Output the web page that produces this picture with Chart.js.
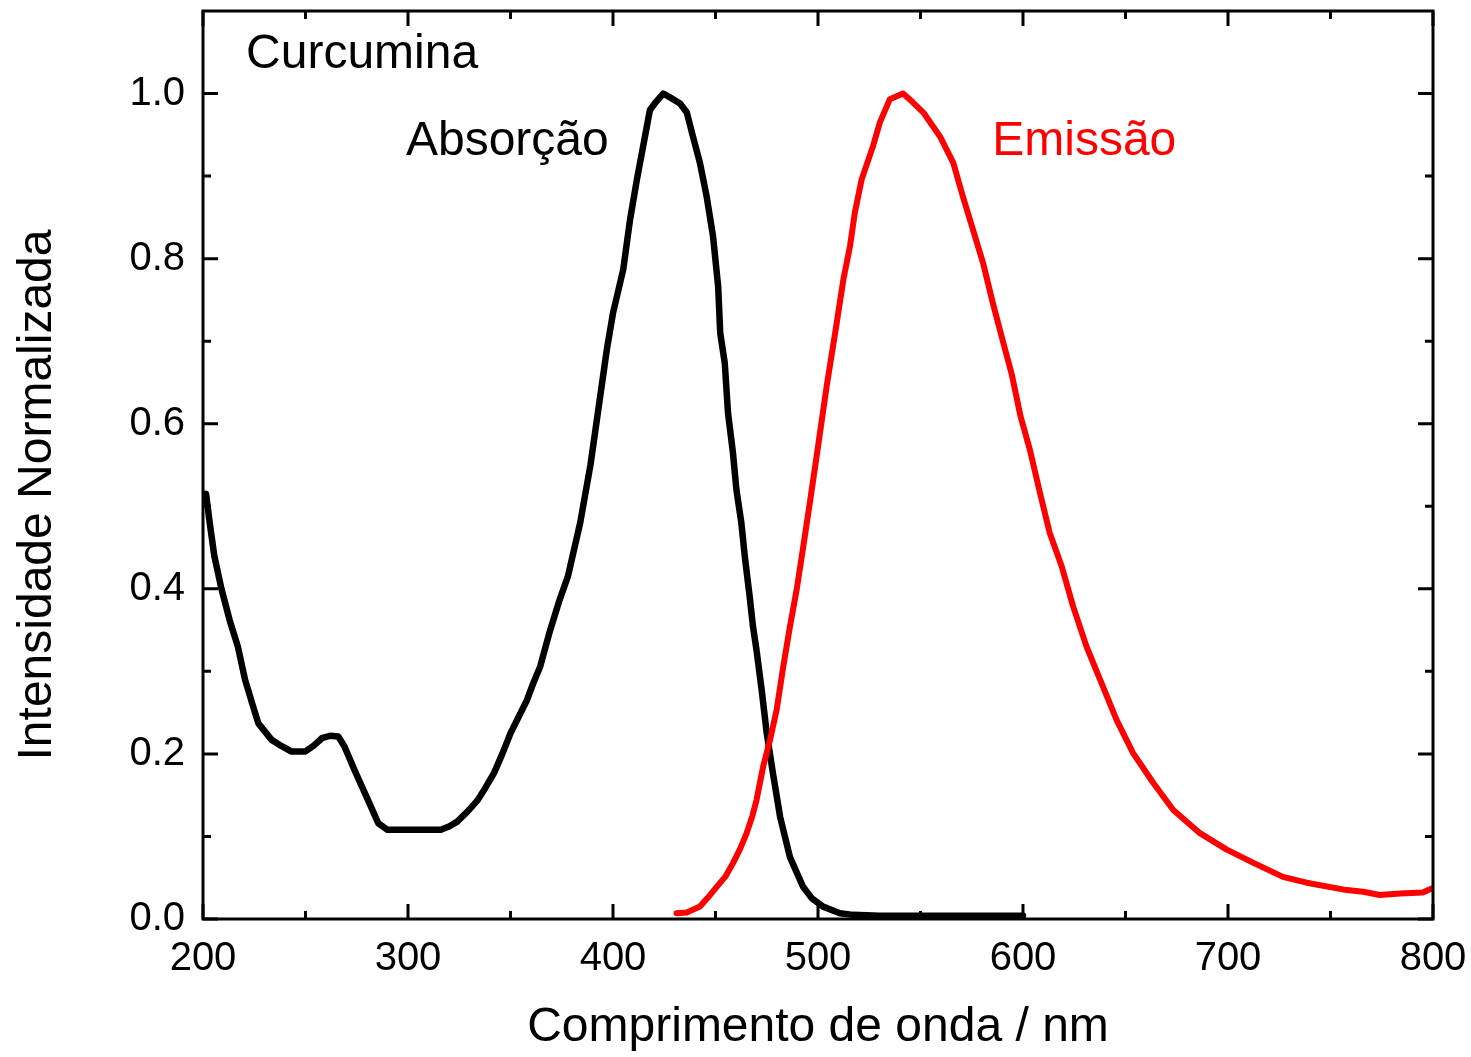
<!DOCTYPE html>
<html>
<head>
<meta charset="utf-8">
<script src="https://cdn.jsdelivr.net/npm/chart.js@4.4.1/dist/chart.umd.min.js"></script>
<style>
  html, body { margin: 0; padding: 0; background: #fff; }
  #chart { display: block; }
</style>
</head>
<body>
<canvas id="chart" width="1471" height="1057"></canvas>
<script>
// absorption spectrum (black)
const absWavelength = [200, 201.5, 203, 205.5, 209, 213, 217, 220.5, 224.5, 227, 233.5, 238, 243, 250, 254, 258, 262, 266, 269, 274,
    280.5, 285.5, 290, 300, 310, 316, 320, 324, 329, 334, 338, 342, 346, 350, 354, 358, 361, 364.5, 369, 374,
    378, 384, 389, 393, 397, 400, 405, 408.3, 411.6, 415.6, 418, 421, 424.5, 428, 432.7, 436, 439, 442.4, 445.7, 448.8,
    451.3, 452.3, 454.5, 456.1, 458.5, 460.2, 462.6, 464.3, 466.7, 468.3, 470, 472.5, 475, 478, 481.5, 486.3, 492.7, 497, 502.5, 510.7,
    517, 530, 560, 600];
const absValues = [0.505, 0.515, 0.485, 0.44, 0.40, 0.362, 0.33, 0.29, 0.257, 0.237, 0.217, 0.21, 0.203, 0.203, 0.21, 0.219, 0.222, 0.221, 0.209, 0.18,
    0.144, 0.116, 0.108, 0.108, 0.108, 0.108, 0.112, 0.118, 0.13, 0.144, 0.16, 0.177, 0.2, 0.225, 0.245, 0.265, 0.285, 0.306, 0.347, 0.387,
    0.415, 0.48, 0.55, 0.62, 0.69, 0.734, 0.787, 0.847, 0.895, 0.948, 0.98, 0.99, 1.0, 0.995, 0.988, 0.977, 0.948, 0.916, 0.875, 0.827,
    0.766, 0.71, 0.674, 0.613, 0.565, 0.52, 0.48, 0.439, 0.39, 0.354, 0.326, 0.278, 0.225, 0.177, 0.124, 0.075, 0.039, 0.025, 0.015, 0.007,
    0.005, 0.004, 0.004, 0.004];

// emission spectrum (red)
const emWavelength = [431, 436, 442.4, 446, 450.6, 455, 458.6, 462, 465.2, 468, 470, 473.2, 476.6, 479.8, 483, 486.3, 489.6, 492.8, 496, 499.3,
    504.2, 509, 512.4, 515.6, 518, 521.3, 526.8, 530.2, 535, 541.5, 546, 551.4, 559.5, 566, 570.7, 575.6, 580.5, 585.4, 590.2, 594.5,
    598.8, 603.4, 608.3, 613, 618.9, 624.4, 631, 637.6, 645.7, 653.7, 663.5, 673.3, 686.3, 699.4, 712.4, 726.8, 738.4, 757.9, 766, 774,
    784, 795, 799.4];
const emValues = [0.007, 0.008, 0.015, 0.025, 0.039, 0.052, 0.068, 0.085, 0.104, 0.125, 0.144, 0.184, 0.217, 0.253, 0.305, 0.354, 0.399, 0.451, 0.504, 0.56,
    0.645, 0.72, 0.775, 0.815, 0.856, 0.896, 0.936, 0.965, 0.993, 1.0, 0.99, 0.977, 0.948, 0.916, 0.875, 0.835, 0.795, 0.745, 0.7, 0.66,
    0.609, 0.568, 0.516, 0.468, 0.427, 0.379, 0.33, 0.29, 0.241, 0.201, 0.165, 0.132, 0.104, 0.084, 0.068, 0.051, 0.044, 0.035, 0.033, 0.029,
    0.031, 0.032, 0.037];

// ticks
const xTicks = [200, 300, 400, 500, 600, 700, 800];
const xMinorTicks = [250, 350, 450, 550, 650, 750];
const yTicks = [0.0, 0.2, 0.4, 0.6, 0.8, 1.0];
const yMinorTicks = [0.1, 0.3, 0.5, 0.7, 0.9];

// text labels inside the plot, placed in data units
const labels = [
    { text: 'Curcumina', x: 221, y: 1.031, color: '#000000' },
    { text: 'Absorção', x: 299, y: 0.926, color: '#000000' },
    { text: 'Emissão', x: 585, y: 0.926, color: '#ff0000' }
];

const FONT = '"Liberation Sans", Arial, sans-serif';

function toPoints(xs, ys) {
    return xs.map((x, i) => ({ x: x, y: ys[i] }));
}

// frame, inward ticks, inside labels and the rotated y title
const framePlugin = {
    id: 'frame',
    afterDraw(chart) {
        const ctx = chart.ctx;
        const area = chart.chartArea;
        const xs = chart.scales.x;
        const ys = chart.scales.y;
        ctx.save();
        ctx.strokeStyle = '#000';
        ctx.lineWidth = 3;
        ctx.lineCap = 'butt';
        ctx.strokeRect(area.left, area.top, area.right - area.left, area.bottom - area.top);

        function xTick(v, len) {
            const px = xs.getPixelForValue(v);
            ctx.beginPath();
            ctx.moveTo(px, area.bottom); ctx.lineTo(px, area.bottom - len);
            ctx.moveTo(px, area.top); ctx.lineTo(px, area.top + len);
            ctx.stroke();
        }
        function yTick(v, len) {
            const py = ys.getPixelForValue(v);
            ctx.beginPath();
            ctx.moveTo(area.left, py); ctx.lineTo(area.left + len, py);
            ctx.moveTo(area.right, py); ctx.lineTo(area.right - len, py);
            ctx.stroke();
        }
        xTicks.forEach(v => xTick(v, 15));
        xMinorTicks.forEach(v => xTick(v, 8));
        yTicks.forEach(v => yTick(v, 15));
        yMinorTicks.forEach(v => yTick(v, 8));

        ctx.font = '48px ' + FONT;
        ctx.textAlign = 'left';
        ctx.textBaseline = 'alphabetic';
        labels.forEach(l => {
            ctx.fillStyle = l.color;
            ctx.fillText(l.text, xs.getPixelForValue(l.x), ys.getPixelForValue(l.y));
        });

        // y axis title
        ctx.fillStyle = '#000';
        ctx.translate(38, 495);
        ctx.rotate(-Math.PI / 2);
        ctx.textAlign = 'center';
        ctx.textBaseline = 'middle';
        ctx.fillText('Intensidade Normalizada', 0, 0);
        ctx.restore();
    }
};

let chartElement = document.querySelector('#chart');

let chart = new Chart(chartElement, {
    type: 'scatter',
    data: {
        datasets: [
            {
                label: 'Absorção',
                data: toPoints(absWavelength, absValues),
                showLine: true,
                borderColor: '#000000',
                borderWidth: 6.5,
                pointRadius: 0,
                borderJoinStyle: 'round',
                borderCapStyle: 'round',
                order: 1
            },
            {
                label: 'Emissão',
                data: toPoints(emWavelength, emValues),
                showLine: true,
                borderColor: '#ff0000',
                borderWidth: 6,
                pointRadius: 0,
                borderJoinStyle: 'round',
                borderCapStyle: 'round',
                order: 0
            }
        ]
    },
    options: {
        responsive: false,
        animation: false,
        devicePixelRatio: 1,
        layout: { padding: { top: 11, right: 38, left: 0, bottom: 0 } },
        plugins: {
            legend: { display: false },
            tooltip: { enabled: false }
        },
        scales: {
            x: {
                type: 'linear',
                min: 200,
                max: 800,
                grid: { display: false },
                border: { display: false },
                afterBuildTicks: (scale) => { scale.ticks = xTicks.map(v => ({ value: v })); },
                afterFit: (scale) => {
                    scale.height = 138;
                    scale.paddingLeft = 0;
                    scale.paddingRight = 0;
                },
                ticks: {
                    color: '#000',
                    font: { family: FONT, size: 40 },
                    padding: 8,
                    maxRotation: 0,
                    autoSkip: false
                },
                title: {
                    display: true,
                    text: 'Comprimento de onda / nm',
                    color: '#000',
                    font: { family: FONT, size: 48 },
                    padding: { top: 0, bottom: 0 }
                }
            },
            y: {
                type: 'linear',
                min: 0,
                max: 1.1,
                grid: { display: false },
                border: { display: false },
                afterBuildTicks: (scale) => { scale.ticks = yTicks.map(v => ({ value: v })); },
                afterFit: (scale) => {
                    scale.width = 203;
                    scale.paddingTop = 0;
                    scale.paddingBottom = 0;
                },
                ticks: {
                    color: '#000',
                    font: { family: FONT, size: 40 },
                    padding: 10,
                    autoSkip: false,
                    callback: (v) => Number(v).toFixed(1)
                }
            }
        }
    },
    plugins: [framePlugin]
});
</script>
</body>
</html>
